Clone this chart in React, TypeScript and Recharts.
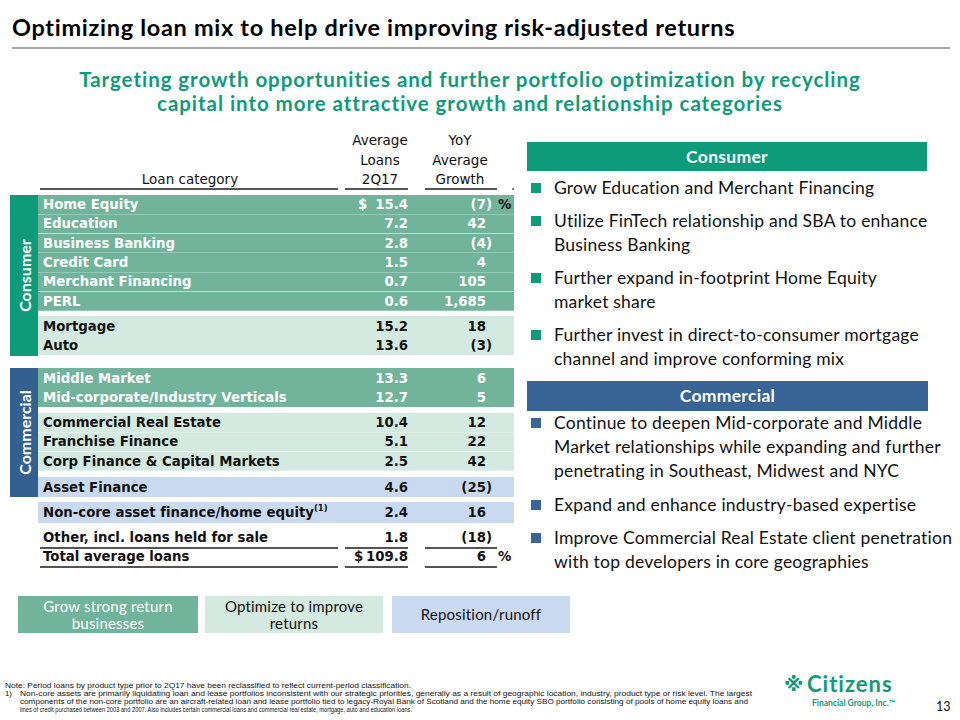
import { BarChart, Bar, XAxis, YAxis, LabelList } from 'recharts';

// table rows, top to bottom
const categories = [
  'Home Equity', 'Education', 'Business Banking', 'Credit Card', 'Merchant Financing', 'PERL',
  'Mortgage', 'Auto',
  'Middle Market', 'Mid-corporate/Industry Verticals',
  'Commercial Real Estate', 'Franchise Finance', 'Corp Finance & Capital Markets',
  'Asset Finance',
  'Non-core asset finance/home equity',
  'Other, incl. loans held for sale', 'Total average loans',
];
const avgLoans = [15.4, 7.2, 2.8, 1.5, 0.7, 0.6, 15.2, 13.6, 13.3, 12.7, 10.4, 5.1, 2.5, 4.6, 2.4, 1.8, 109.8];
const yoyGrowth = [-7, 42, -4, 4, 105, 1685, 18, -3, 6, 5, 12, 22, 42, -25, 16, -18, 6];
const notes = ['', '', '', '', '', '', '', '', '', '', '', '', '', '', '(1)', '', ''];
const strategy = [
  'grow', 'grow', 'grow', 'grow', 'grow', 'grow',
  'optimize', 'optimize',
  'grow', 'grow',
  'optimize', 'optimize', 'optimize',
  'reposition', 'reposition',
  'none', 'none',
];
// which shaded block each row sits in
const blockOf = [0, 0, 0, 0, 0, 0, 1, 1, 2, 2, 3, 3, 3, 4, 5, 6, 6];

const legendItems = [
  { key: 'grow', label: ['Grow strong return', 'businesses'] },
  { key: 'optimize', label: ['Optimize to improve', 'returns'] },
  { key: 'reposition', label: ['Reposition/runoff'] },
];

const consumerBullets = [
  ['Grow Education and Merchant Financing'],
  ['Utilize FinTech relationship and SBA to enhance', 'Business Banking'],
  ['Further expand in-footprint Home Equity', 'market share'],
  ['Further invest in direct-to-consumer mortgage', 'channel and improve conforming mix'],
];
const commercialBullets = [
  ['Continue to deepen Mid-corporate and Middle', 'Market relationships while expanding and further', 'penetrating in Southeast, Midwest and NYC'],
  ['Expand and enhance industry-based expertise'],
  ['Improve Commercial Real Estate client penetration', 'with top developers in core geographies'],
];

const footnotes = [
  'Note: Period loans by product type prior to 2Q17 have been reclassified to reflect current-period classification.',
  'Non-core assets are primarily liquidating loan and lease portfolios inconsistent with our strategic priorities, generally as a result of geographic location, industry, product type or risk level. The largest',
  'components of the non-core portfolio are an aircraft-related loan and lease portfolio tied to legacy-Royal Bank of Scotland and the home equity SBO portfolio consisting of pools of home equity loans and',
  'lines of credit purchased between 2003 and 2007. Also includes certain commercial loans and commercial real estate, mortgage, auto and education loans.',
];

const TEAL = '#0e9b79';
const BLUE = '#33608e';
const FILL: Record<string, string> = {
  grow: '#71b49b',
  optimize: '#d4e9df',
  reposition: '#c9d9f0',
  none: 'rgba(0,0,0,0)',
};
const SANS = 'Lato, "Open Sans", sans-serif';
const TABLE_FONT = '"DejaVu Sans", Verdana, sans-serif';

// block placement on the slide
const BLOCK_TOPS = [195, 316, 368, 413, 477, 502, 527];
const BLOCK_HEIGHTS = [116, 39, 39, 58, 20, 21, 39];
const TABLE_LEFT = 38;
const TABLE_WIDTH = 476;

const rows = categories.map((name, i) => ({
  name,
  loans: avgLoans[i],
  growth: yoyGrowth[i],
  note: notes[i],
  strategy: strategy[i],
  block: blockOf[i],
  first: i === 0,
  total: i === categories.length - 1,
}));

type Row = (typeof rows)[number];

function fmtGrowth(v: number) {
  const s = Math.abs(v).toLocaleString('en-US');
  return v < 0 ? `(${s})` : s;
}

function RowText(props: any) {
  const { y, height, index, data } = props;
  const r: Row = data[index];
  if (!r) return null;
  const cy = Number(y) + Number(height) / 2;
  const color = r.strategy === 'grow' ? '#ffffff' : '#111111';
  const common = {
    y: cy,
    dominantBaseline: 'central' as const,
    fill: color,
    fontFamily: TABLE_FONT,
    fontWeight: 700,
    fontSize: 13.3,
  };
  return (
    <g>
      <text x={5} {...common}>
        {r.name}
        {r.note && (
          <tspan fontSize={8.5} dy={-5}>{r.note}</tspan>
        )}
      </text>
      {(r.first || r.total) && (
        <text x={r.total ? 316 : 320} {...common}>$</text>
      )}
      <text x={370} textAnchor="end" {...common}>{r.loans.toFixed(1)}</text>
      <text x={r.growth < 0 ? 454 : 448} textAnchor="end" {...common}>{fmtGrowth(r.growth)}</text>
      {(r.first || r.total) && (
        <text x={460} {...common} fill="#111111">%</text>
      )}
    </g>
  );
}

function TableBlock({ block }: { block: number }) {
  const data = rows.filter(r => r.block === block);
  const fill = FILL[data[0].strategy];
  const maxLoans = Math.max(...avgLoans);
  return (
    <div style={{ position: 'absolute', left: TABLE_LEFT, top: BLOCK_TOPS[block] }}>
      <BarChart
        width={TABLE_WIDTH}
        height={BLOCK_HEIGHTS[block]}
        data={data}
        layout="vertical"
        margin={{ top: 0, right: 0, bottom: 0, left: 0 }}
        barCategoryGap={0}
      >
        <XAxis type="number" hide domain={[0, maxLoans]} />
        <YAxis type="category" dataKey="name" hide />
        <Bar
          dataKey="loans"
          fill="rgba(0,0,0,0)"
          background={{ fill }}
          isAnimationActive={false}
        >
          <LabelList dataKey="loans" content={(p: any) => <RowText {...p} data={data} />} />
        </Bar>
      </BarChart>
    </div>
  );
}

function Rule({ y }: { y: number }) {
  const segs = [[40, 338], [345, 408], [425, 497]];
  return (
    <>
      {segs.map(([a, b]) => (
        <div key={a} style={{ position: 'absolute', left: a, top: y, width: b - a, height: 1.5, background: '#555' }} />
      ))}
    </>
  );
}

function Bullets({ items, top, color }: { items: string[][]; top: number[]; color: string }) {
  return (
    <>
      {items.map((lines, i) => (
        <div key={i}>
          <div style={{ position: 'absolute', left: 531, top: top[i] - 5, width: 10, height: 10, background: color }} />
          <div
            style={{
              position: 'absolute', left: 554, top: top[i] - 12, fontFamily: SANS, fontSize: 17.5,
              lineHeight: '23.8px', color: '#111', whiteSpace: 'nowrap', letterSpacing: 0.22,
            }}
          >
            {lines.map((l, j) => <div key={j}>{l}</div>)}
          </div>
        </div>
      ))}
    </>
  );
}

export default function App() {
  const blocks = Array.from(new Set(blockOf));
  return (
    <div
      style={{
        position: 'absolute', left: 0, top: 0, width: 960, height: 720, background: '#fff', overflow: 'hidden',
        fontVariantLigatures: 'none', fontFeatureSettings: '"liga" 0, "clig" 0',
      }}
    >
      <div style={{ position: 'absolute', left: 12, top: 13, fontFamily: SANS, fontWeight: 700, fontSize: 23.5, letterSpacing: 0.7, color: '#000', whiteSpace: 'nowrap' }}>
        Optimizing loan mix to help drive improving risk-adjusted returns
      </div>
      <div style={{ position: 'absolute', left: 12, top: 47, width: 938, height: 2, background: '#a6a6a6' }} />

      <div
        style={{
          position: 'absolute', left: 0, width: 940, top: 67, textAlign: 'center', fontFamily: SANS,
          fontWeight: 700, fontSize: 20.5, lineHeight: '24px', letterSpacing: 0.95, color: TEAL,
        }}
      >
        <div>Targeting growth opportunities and further portfolio optimization by recycling</div>
        <div>capital into more attractive growth and relationship categories</div>
      </div>

      {/* table header */}
      <div style={{ position: 'absolute', left: 340, width: 80, top: 131, textAlign: 'center', fontFamily: TABLE_FONT, fontSize: 13.5, lineHeight: '19.5px', color: '#111' }}>
        <div>Average</div>
        <div>Loans</div>
        <div>2Q17</div>
      </div>
      <div style={{ position: 'absolute', left: 415, width: 90, top: 131, textAlign: 'center', fontFamily: TABLE_FONT, fontSize: 13.5, lineHeight: '19.5px', color: '#111' }}>
        <div>YoY</div>
        <div>Average</div>
        <div>Growth</div>
      </div>
      <div style={{ position: 'absolute', left: 90, width: 200, top: 170, textAlign: 'center', fontFamily: TABLE_FONT, fontSize: 13.5, lineHeight: '19.5px', color: '#111' }}>
        Loan category
      </div>
      <Rule y={188} />
      <div style={{ position: 'absolute', left: 512, top: 188, width: 2, height: 1.5, background: '#777' }} />

      {/* side labels */}
      <div style={{ position: 'absolute', left: 10, top: 195, width: 28, height: 161, background: TEAL, display: 'flex', alignItems: 'center', justifyContent: 'center' }}>
        <div style={{ transform: 'rotate(-90deg)', color: '#fff', fontFamily: SANS, fontWeight: 700, fontSize: 16, whiteSpace: 'nowrap' }}>Consumer</div>
      </div>
      <div style={{ position: 'absolute', left: 10, top: 368, width: 28, height: 129, background: BLUE, display: 'flex', alignItems: 'center', justifyContent: 'center' }}>
        <div style={{ transform: 'rotate(-90deg)', color: '#fff', fontFamily: SANS, fontWeight: 700, fontSize: 16, whiteSpace: 'nowrap' }}>Commercial</div>
      </div>

      {blocks.map(b => <TableBlock key={b} block={b} />)}
      <Rule y={547} />
      <Rule y={566} />

      {/* right panel */}
      <div style={{ position: 'absolute', left: 527, top: 142, width: 400, height: 29, background: TEAL, color: '#fff', fontFamily: SANS, fontWeight: 700, fontSize: 17.5, lineHeight: '29px', textAlign: 'center', letterSpacing: 0.3 }}>
        Consumer
      </div>
      <Bullets items={consumerBullets} top={[188, 221, 278, 335]} color={TEAL} />
      <div style={{ position: 'absolute', left: 527, top: 381, width: 401, height: 30, background: '#386496', color: '#fff', fontFamily: SANS, fontWeight: 700, fontSize: 17.5, lineHeight: '30px', textAlign: 'center', letterSpacing: 0.3 }}>
        Commercial
      </div>
      <Bullets items={commercialBullets} top={[423, 505, 538]} color={'#386496'} />

      {/* legend */}
      {legendItems.map((it, i) => {
        const lefts = [18, 205, 392];
        const widths = [180, 178, 178];
        return (
          <div
            key={it.key}
            style={{
              position: 'absolute', left: lefts[i], top: 596, width: widths[i], height: 37, background: FILL[it.key],
              display: 'flex', flexDirection: 'column', justifyContent: 'center', alignItems: 'center',
              fontFamily: SANS, fontSize: 15, lineHeight: '17px', letterSpacing: 0.2, color: it.key === 'grow' ? '#fff' : '#111',
            }}
          >
            {it.label.map((l, j) => <div key={j}>{l}</div>)}
          </div>
        );
      })}

      {/* footnotes */}
      <svg style={{ position: 'absolute', left: 0, top: 678 }} width={780} height={40}>
        <g fontFamily='"Liberation Sans Narrow", "Liberation Sans", sans-serif' fontSize={7.8} fill="#111">
          <text x={5} y={10} textLength={406} lengthAdjust="spacingAndGlyphs">{footnotes[0]}</text>
          <text x={5} y={18}>1)</text>
          <text x={20} y={18} textLength={732} lengthAdjust="spacingAndGlyphs">{footnotes[1]}</text>
          <text x={20} y={26} textLength={728} lengthAdjust="spacingAndGlyphs">{footnotes[2]}</text>
          <text x={20} y={34} textLength={392} lengthAdjust="spacingAndGlyphs">{footnotes[3]}</text>
        </g>
      </svg>

      {/* logo */}
      <div style={{ position: 'absolute', left: 784, top: 674, lineHeight: '20px', fontFamily: '"DejaVu Sans", sans-serif', fontWeight: 700, fontSize: 20, color: TEAL }}>※</div>
      <div style={{ position: 'absolute', left: 807, top: 674, lineHeight: '20px', fontFamily: SANS, fontWeight: 700, fontSize: 22, color: TEAL, letterSpacing: 1.0 }}>Citizens</div>
      <div style={{ position: 'absolute', left: 812, top: 699, lineHeight: '9px', fontFamily: SANS, fontWeight: 700, fontSize: 8.5, color: TEAL }}>Financial Group, Inc.™</div>
      <div style={{ position: 'absolute', left: 936, top: 700, lineHeight: '14px', fontFamily: SANS, fontSize: 12.5, color: '#111' }}>13</div>
    </div>
  );
}
